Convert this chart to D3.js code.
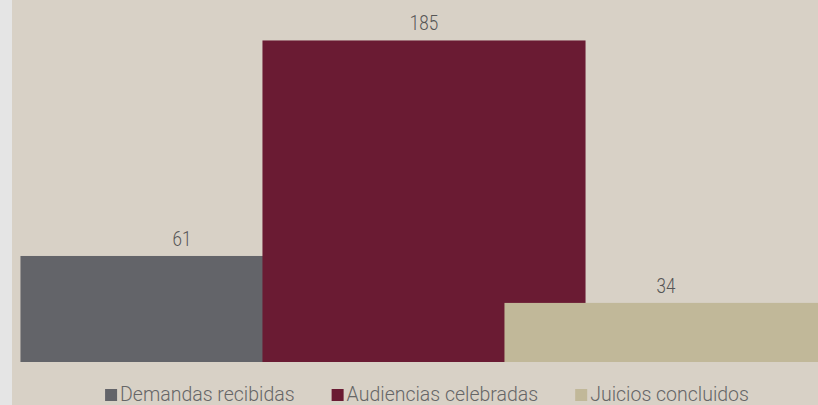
<!DOCTYPE html>
<html lang="es">
<head>
<meta charset="UTF-8">
<title>Demandas, audiencias y juicios</title>
<script src="https://d3js.org/d3.v7.min.js"></script>
<style>
  html, body { margin: 0; padding: 0; background: #e5e5e5; }
  svg { display: block; font-family: Roboto, "Noto Sans", sans-serif; font-weight: 300; }
</style>
</head>
<body>
<svg id="chart" width="818" height="405"></svg>
<script>
// data
const series = ["Demandas recibidas", "Audiencias celebradas", "Juicios concluidos"];
const values = [61, 185, 34];
const colors = ["#636469", "#6a1b33", "#c1b899"];

const width = 818, height = 405;
const svg = d3.select("#chart");

// beige panel, light strip on the left
svg.append("rect")
    .attr("x", 12).attr("y", 0)
    .attr("width", width - 12).attr("height", height)
    .attr("fill", "#d8d1c6");

const plot = svg.append("g");
plot.append("clipPath").attr("id", "clip")
  .append("rect").attr("x", 12).attr("y", 0).attr("width", width - 12).attr("height", height);

const x = d3.scaleBand()
    .domain(series)
    .range([61, 787])
    .padding(0);

const y = d3.scaleLinear()
    .domain([0, 200])
    .range([362, 14.4]);

// bars are wider than their band, so they overlap the neighbour
const barW = x.bandwidth() * 1.335;

plot.selectAll("rect.bar")
  .data(series)
  .join("rect")
    .attr("class", "bar")
    .attr("clip-path", "url(#clip)")
    .attr("x", d => x(d) + x.bandwidth() / 2 - barW / 2)
    .attr("y", (d, i) => y(values[i]))
    .attr("width", barW)
    .attr("height", (d, i) => y(0) - y(values[i]))
    .attr("fill", (d, i) => colors[i]);

// value labels, squeezed a bit to look like the condensed face
plot.selectAll("text.val")
  .data(series)
  .join("text")
    .attr("class", "val")
    .attr("text-anchor", "middle")
    .attr("font-size", 20)
    .attr("fill", "#555555")
    .attr("transform", (d, i) => `translate(${x(d) + x.bandwidth() / 2},${y(values[i]) - 10}) scale(0.85,1)`)
    .text((d, i) => values[i]);

// legend
const legend = svg.append("g");
const items = legend.selectAll("g")
  .data(series)
  .join("g");

items.append("rect")
    .attr("width", 12).attr("height", 12)
    .attr("y", 389)
    .attr("fill", (d, i) => colors[i]);

const labels = items.append("text")
    .attr("x", 15)
    .attr("y", 401)
    .attr("font-size", 19.5)
    .attr("fill", "#666666")
    .text(d => d);

// lay out in a row, centred under the plot
let offs = [], pos = 0;
labels.each(function() {
  offs.push(pos);
  pos += 15 + this.getComputedTextLength() + 37;
});
const total = pos - 37;
const start = 427 - total / 2;
items.attr("transform", (d, i) => `translate(${start + offs[i]},0)`);
</script>
</body>
</html>
